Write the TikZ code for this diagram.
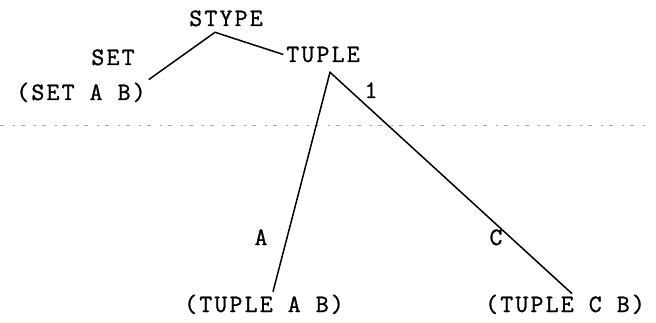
\documentclass[tikz,border=0pt]{standalone}
\usepackage{fontspec}
\newfontfamily\typew{Latin Modern Mono}[LetterSpace=9,FakeBold=1.2]
\tikzset{
  lbl/.style={inner sep=0pt, outer sep=3pt, anchor=base, font=\typew\fontsize{25}{29}\selectfont},
  branch/.style={line width=1.5pt},
  scanline/.style={gray!70, line width=0.7pt, dash pattern=on 4pt off 9pt on 2pt off 6pt}
}
\begin{document}
\begin{tikzpicture}[x=1pt,y=-1pt]
\useasboundingbox (0,0) rectangle (656,323);

\draw[scanline] (0,125) -- (645,125);

\node[lbl] (stype) at (226,26) {STYPE};
\node[lbl] (set) at (113,65) {SET};
\node[lbl] (tuple) at (323,62) {TUPLE};
\node[lbl] (setab) at (81,100) {(SET A B)};
\node[lbl] (one) at (371,98) {1};
\node[lbl] (a) at (261,245) {A};
\node[lbl] (c) at (496,245) {C};
\node[lbl] (tupab) at (264,312) {(TUPLE A B)};
\node[lbl] (tupcb) at (565,312) {(TUPLE C B)};

\coordinate (stypefork) at ([xshift=-11pt,yshift=-3pt]stype.south);
\coordinate (tuplefork) at ([xshift=7pt,yshift=-7pt]tuple.south);

\draw[branch] (setab.north east) -- (stypefork) -- (tuple.west);
\draw[branch] ([xshift=9pt]tupab.north) -- (tuplefork) -- ([xshift=7pt,yshift=-2pt]tupcb.north);
\end{tikzpicture}
\end{document}
